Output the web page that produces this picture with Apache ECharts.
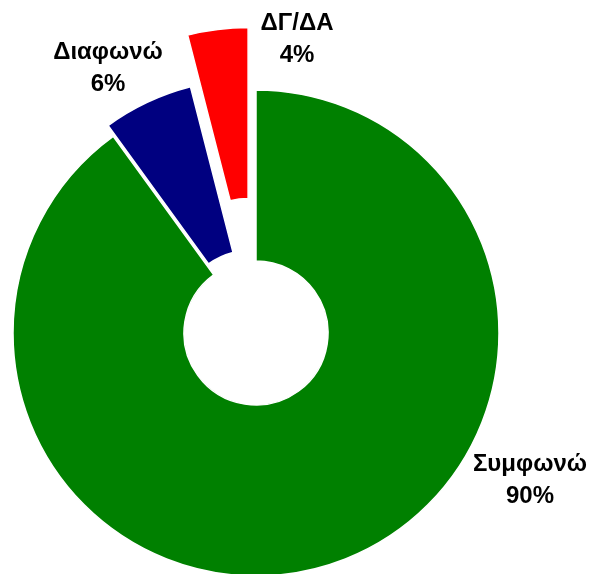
<!DOCTYPE html>
<html>
<head>
<meta charset="utf-8">
<script src="https://cdn.jsdelivr.net/npm/echarts@6/dist/echarts.min.js"></script>
<style>
  html, body { margin: 0; padding: 0; background: #fff; }
  #chart { width: 595px; height: 574px; }
</style>
</head>
<body>
<div id="chart"></div>
<script>
// data
const categories = ['Συμφωνώ', 'Διαφωνώ', 'ΔΓ/ΔΑ'];
const values = [90, 6, 4];
const colors = ['#008000', '#000080', '#ff0000'];
// how far each slice is pulled out of the ring
const explode = [0, 12, 63];
// where each label sits (center of the text block)
const labelSpots = [[530, 480], [108, 68], [297, 39]];

var myChart = echarts.init(document.getElementById('chart'));

var total = values.reduce(function (a, b) { return a + b; }, 0);

// one pie series per slice so each slice can have its own offset
var series = categories.map(function (name, i) {
    return {
        type: 'pie',
        center: [256, 333],
        radius: [72, 243],
        startAngle: 90,
        clockwise: true,
        silent: true,
        animation: false,
        selectedMode: 'single',
        selectedOffset: explode[i],
        label: { show: false },
        labelLine: { show: false },
        data: categories.map(function (c, j) {
            return {
                name: c,
                value: values[j],
                selected: j === i,
                itemStyle: {
                    color: j === i ? colors[i] : 'rgba(0,0,0,0)',
                    borderColor: j === i ? '#fff' : 'rgba(0,0,0,0)',
                    borderWidth: j === i ? 1.5 : 0
                }
            };
        })
    };
});

// labels: name + percentage, placed by hand like the original
var labels = categories.map(function (c, i) {
    return {
        type: 'text',
        x: labelSpots[i][0],
        y: labelSpots[i][1],
        silent: true,
        style: {
            text: c + '\n' + Math.round(values[i] / total * 100) + '%',
            fill: '#000',
            font: 'bold 24px "Liberation Sans", Arial, sans-serif',
            lineHeight: 32,
            align: 'center',
            verticalAlign: 'middle'
        }
    };
});

myChart.setOption({
    backgroundColor: '#fff',
    graphic: labels,
    series: series
});
</script>
</body>
</html>
